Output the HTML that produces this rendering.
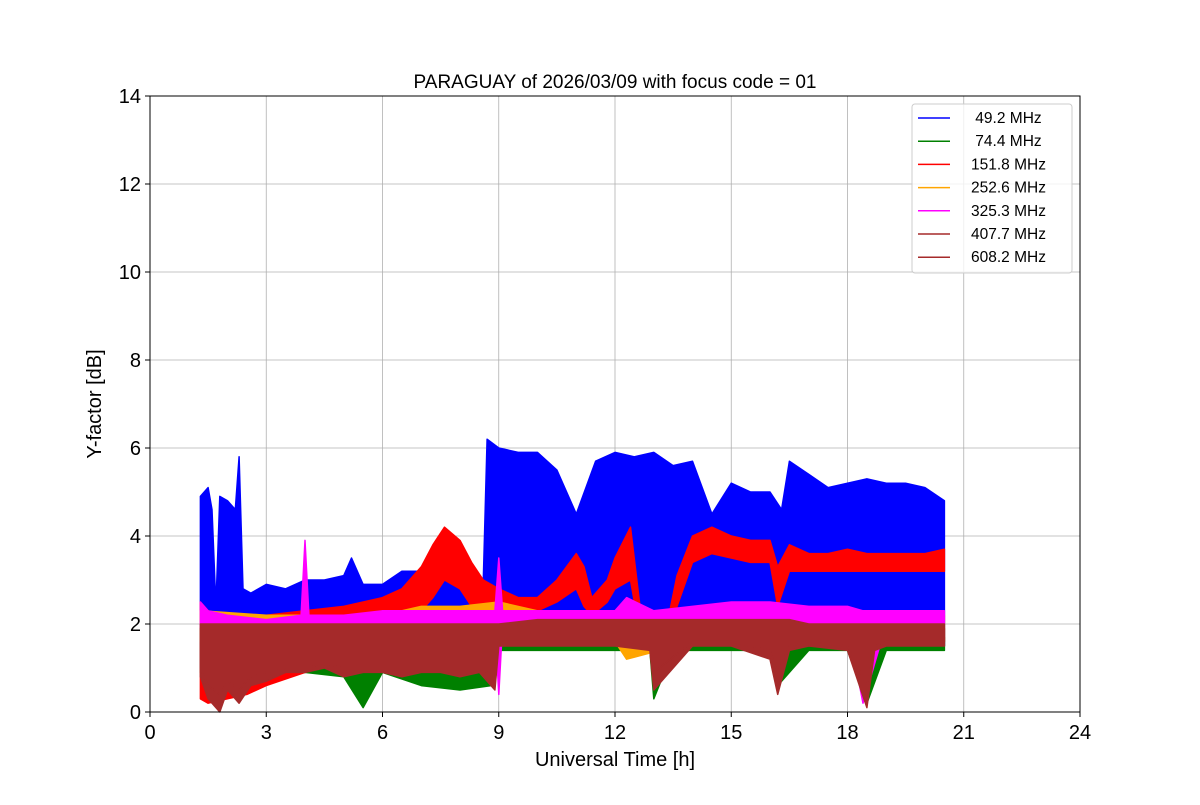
<!DOCTYPE html>
<html><head><meta charset="utf-8"><style>
body{margin:0;background:#fff}
svg{font-family:"Liberation Sans","DejaVu Sans",sans-serif}
</style></head><body>
<svg id="chart" width="1200" height="800" viewBox="0 0 1200 800" xmlns="http://www.w3.org/2000/svg">
<rect width="1200" height="800" fill="#fff"/>
<g id="grid"></g>
<g id="series"></g>
<rect x="150" y="96" width="930" height="616" fill="none" stroke="#000" stroke-width="1"/>
<g id="ticks"></g>
<text x="615" y="88" font-size="19" text-anchor="middle">PARAGUAY of 2026/03/09 with focus code = 01</text>
<text x="615" y="766" font-size="20" text-anchor="middle">Universal Time [h]</text>
<text transform="translate(101,404) rotate(-90)" font-size="20" text-anchor="middle">Y-factor [dB]</text>
<g id="legend"></g>
</svg>
<script>
const xTicks=[0,3,6,9,12,15,18,21,24];
const yTicks=[0,2,4,6,8,10,12,14];
const seriesNames=[" 49.2 MHz"," 74.4 MHz","151.8 MHz","252.6 MHz","325.3 MHz","407.7 MHz","608.2 MHz"];
const seriesColors=["#0000ff","#008000","#ff0000","#ffa500","#ff00ff","#a52a2a","#a52a2a"];
const blueT=[1.3,1.5,1.6,1.7,1.8,2.0,2.2,2.3,2.4,2.6,3,3.5,4,4.5,5,5.2,5.5,6,6.5,7,7.5,8,8.6,8.7,9,9.5,10,10.5,11,11.5,12,12.5,13,13.5,14,14.5,15,15.5,16,16.3,16.5,17,17.5,18,18.5,19,19.5,20,20.5];
const blueHi=[4.9,5.1,4.6,2.4,4.9,4.8,4.6,5.8,2.8,2.7,2.9,2.8,3.0,3.0,3.1,3.5,2.9,2.9,3.2,3.2,3.1,3.1,3.0,6.2,6.0,5.9,5.9,5.5,4.5,5.7,5.9,5.8,5.9,5.6,5.7,4.5,5.2,5.0,5.0,4.6,5.7,5.4,5.1,5.2,5.3,5.2,5.2,5.1,4.8];
const blueLo=[1.0,0.8,0.6,0.8,0.7,0.8,1.0,0.9,1.0,1.0,1.0,1.0,1.1,1.1,1.2,1.2,1.2,1.2,1.3,1.3,1.3,1.4,1.4,1.5,1.5,1.5,1.5,1.5,1.5,1.5,1.5,1.5,1.5,1.5,1.5,1.5,1.5,1.5,1.5,1.5,1.5,1.5,1.5,1.5,1.5,1.5,1.5,1.5,1.5];
const greenT=[1.3,2,3,4,5,5.5,6,7,8,8.8,9,10,11,12,12.9,13,13.5,14,15,16,16.2,17,18,18.5,19,20,20.5];
const greenHi=[1.8,1.8,1.8,1.8,1.8,1.8,1.8,1.8,1.8,1.8,1.7,1.7,1.7,1.7,1.7,1.7,1.7,1.7,1.7,1.7,1.7,1.7,1.7,1.7,1.7,1.7,1.7];
const greenLo=[0.9,0.5,0.8,0.9,0.8,0.1,0.9,0.6,0.5,0.6,1.4,1.4,1.4,1.4,1.4,0.3,1.4,1.4,1.4,1.4,0.6,1.4,1.4,0.2,1.4,1.4,1.4];
const redT=[1.3,1.5,2,2.5,3,4,5,6,6.5,7,7.3,7.6,8,8.3,8.6,9,9.5,10,10.5,11,11.2,11.4,11.8,12,12.4,12.7,13,13.3,13.6,14,14.5,15,15.5,16,16.2,16.5,17,17.5,18,18.5,19,19.5,20,20.5];
const redHi=[2.5,2.3,2.2,2.2,2.2,2.3,2.4,2.6,2.8,3.3,3.8,4.2,3.9,3.4,3.0,2.8,2.6,2.6,3.0,3.6,3.3,2.6,3.0,3.5,4.2,2.0,1.9,1.8,3.1,4.0,4.2,4.0,3.9,3.9,3.3,3.8,3.6,3.6,3.7,3.6,3.6,3.6,3.6,3.7];
const redLo=[0.3,0.2,0.3,0.4,0.6,0.9,1.2,1.4,1.6,2.3,2.6,3.0,2.8,2.4,2.2,2.1,2.2,2.3,2.5,2.8,2.4,2.2,2.5,2.8,3.0,1.5,1.3,1.3,2.4,3.4,3.6,3.5,3.4,3.4,2.4,3.2,3.2,3.2,3.2,3.2,3.2,3.2,3.2,3.2];
const orangeT=[1.3,3,6,7,8,9,10,12,12.3,14,16,18,20.5];
const orangeHi=[2.3,2.2,2.2,2.4,2.4,2.5,2.3,2.3,2.3,2.2,2.2,2.2,2.2];
const orangeLo=[1.6,1.5,1.6,1.6,1.6,1.6,1.6,1.6,1.2,1.6,1.6,1.6,1.6];
const magentaT=[1.3,1.5,2,3,3.9,4.0,4.1,5,6,7,8,8.9,9.0,9.1,10,11,12,12.3,13,14,15,16,17,18,18.4,19,20,20.5];
const magentaHi=[2.5,2.3,2.2,2.1,2.2,3.9,2.2,2.2,2.3,2.3,2.3,2.3,3.5,2.3,2.3,2.3,2.3,2.6,2.3,2.4,2.5,2.5,2.4,2.4,2.3,2.3,2.3,2.3];
const magentaLo=[1.9,1.9,1.9,1.9,1.9,1.9,1.9,1.9,2.0,2.0,2.0,2.0,0.4,2.0,2.0,2.0,2.0,2.0,2.0,2.0,2.0,2.0,2.0,2.0,0.2,2.0,2.0,2.0];
const brownT=[1.3,1.5,1.8,2,2.3,2.6,3,3.5,4,4.5,5,5.5,6,6.5,7,7.5,8,8.5,8.9,9,10,11,12,12.9,13,14,15,16,16.2,16.5,17,18,18.5,18.7,19,20,20.5];
const brownHi=[2.0,2.0,2.0,2.0,2.0,2.0,2.0,2.0,2.0,2.0,2.0,2.0,2.0,2.0,2.0,2.0,2.0,2.0,2.0,2.0,2.1,2.1,2.1,2.1,2.1,2.1,2.1,2.1,2.1,2.1,2.0,2.0,2.0,2.0,2.0,2.0,2.0];
const brownLo=[0.8,0.3,0.0,0.5,0.2,0.6,0.7,0.9,0.9,1.0,0.8,0.9,0.9,0.8,0.9,0.9,0.8,0.9,0.5,1.5,1.5,1.5,1.5,1.4,0.5,1.5,1.5,1.2,0.4,1.4,1.5,1.4,0.1,1.4,1.5,1.5,1.5];
const brown2Hi=[1.9,1.9,1.9,1.9,1.9,1.9,1.9,1.9,1.9,1.9,1.9,1.9,1.9,1.9,1.9,1.9,1.9,1.9,1.9,1.9,2.0,2.0,2.0,2.0,2.0,2.0,2.0,2.0,2.0,2.0,1.9,1.9,1.9,1.9,1.9,1.9,1.9];
const brown2Lo=[1.0,0.6,0.4,0.7,0.5,0.8,0.9,1.0,1.0,1.1,1.0,1.0,1.0,1.0,1.0,1.0,1.0,1.0,0.8,1.6,1.6,1.6,1.6,1.5,0.9,1.6,1.6,1.4,0.9,1.5,1.6,1.5,0.6,1.5,1.6,1.6,1.6];

const X0=150,X1=1080,Y0=712,Y1=96;
const xs=v=>X0+(v/24)*(X1-X0);
const ys=v=>Y0-(v/14)*(Y0-Y1);
const NS="http://www.w3.org/2000/svg";
function mk(tag,attrs,parent){const e=document.createElementNS(NS,tag);for(const k in attrs)e.setAttribute(k,attrs[k]);parent.appendChild(e);return e;}
const grid=document.getElementById('grid'),ticks=document.getElementById('ticks'),ser=document.getElementById('series'),leg=document.getElementById('legend');
xTicks.forEach(t=>{
  const g=mk('line',{x1:xs(t),x2:xs(t),y1:Y1,y2:Y0,stroke:'#b0b0b0','stroke-width':0.8},grid);
  
  
  const tk=mk('line',{x1:xs(t),x2:xs(t),y1:Y0,y2:Y0+5,stroke:'#000'},ticks);
  
  
  const tx=mk('text',{x:xs(t),y:Y0+27,'font-size':20,'text-anchor':'middle'},ticks);
  
  
  tx.textContent=t;
});
yTicks.forEach(t=>{
  const g=mk('line',{x1:X0,x2:X1,y1:ys(t),y2:ys(t),stroke:'#b0b0b0','stroke-width':0.8},grid);
  
  
  const tk=mk('line',{x1:X0-5,x2:X0,y1:ys(t),y2:ys(t),stroke:'#000'},ticks);
  
  
  const tx=mk('text',{x:X0-9,y:ys(t)+7,'font-size':20,'text-anchor':'end'},ticks);
  
  
  tx.textContent=t;
});
function band(T,H,L,color,name){
  let d='M'+T.map((t,i)=>xs(t).toFixed(1)+','+ys(H[i]).toFixed(1)).join('L');
  for(let i=T.length-1;i>=0;i--)d+='L'+xs(T[i]).toFixed(1)+','+ys(L[i]).toFixed(1);
  d+='Z';
  const p=mk('path',{d:d,fill:color,stroke:color,'stroke-width':1.5,'stroke-linejoin':'round'},ser);
  
  
}
band(blueT,blueHi,blueLo,seriesColors[0],'series-49-2-mhz');
band(greenT,greenHi,greenLo,seriesColors[1],'series-74-4-mhz');
band(redT,redHi,redLo,seriesColors[2],'series-151-8-mhz');
band(orangeT,orangeHi,orangeLo,seriesColors[3],'series-252-6-mhz');
band(magentaT,magentaHi,magentaLo,seriesColors[4],'series-325-3-mhz');
band(brownT,brownHi,brownLo,seriesColors[5],'series-407-7-mhz');
band(brownT,brown2Hi,brown2Lo,seriesColors[6],'series-608-2-mhz');
const lb=mk('rect',{x:912,y:104,width:160,height:169,rx:3,fill:'#fff','fill-opacity':0.8,stroke:'#ccc'},leg);


seriesNames.forEach((n,i)=>{
  const y=118+i*23.2;
  const l=mk('line',{x1:918,x2:950,y1:y,y2:y,stroke:seriesColors[i],'stroke-width':1.5},leg);
  
  
  const t=mk('text',{x:971,y:y+5,'font-size':15.5,'text-anchor':'start'},leg);
  
  
  t.setAttribute('style','white-space:pre');
  t.textContent=n;
});
</script>
</body></html>
